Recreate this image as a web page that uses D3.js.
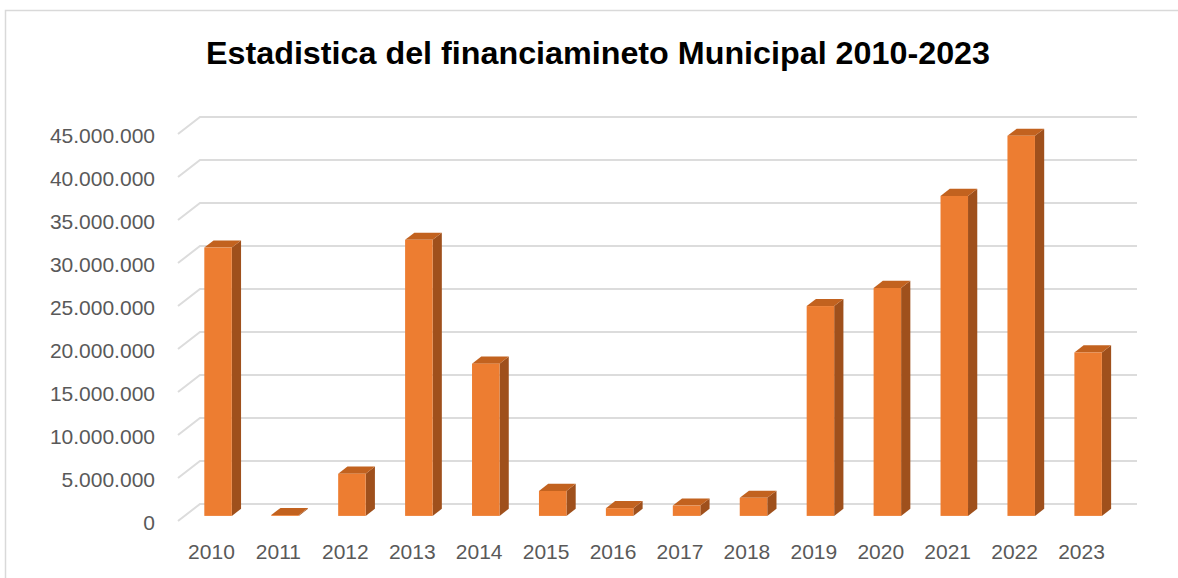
<!DOCTYPE html>
<html>
<head>
<meta charset="utf-8">
<script src="https://cdn.jsdelivr.net/npm/d3@7"></script>
<style>
  body { margin: 0; background: #fff; }
  text { font-family: "Liberation Sans", Arial, sans-serif; }
</style>
</head>
<body>
<div id="chart"></div>
<script>
// Data
var years = ["2010", "2011", "2012", "2013", "2014", "2015", "2016", "2017", "2018", "2019", "2020", "2021", "2022", "2023"];
var amounts = [31200000, 100000, 4900000, 32100000, 17700000, 2900000, 900000, 1200000, 2100000, 24400000, 26500000, 37200000, 44200000, 19000000];
var yTicks = [0, 5000000, 10000000, 15000000, 20000000, 25000000, 30000000, 35000000, 40000000, 45000000];
var title = "Estadistica del financiamineto Municipal 2010-2023";

var W = 1178, H = 578;
var data = years.map(function(y, i) { return { year: y, value: amounts[i] }; });

var svg = d3.select("#chart").append("svg")
  .attr("width", W)
  .attr("height", H);

// chart frame
svg.append("rect")
  .attr("x", 5.5).attr("y", 10.5)
  .attr("width", 1300).attr("height", 700)
  .attr("fill", "none")
  .attr("stroke", "#d9d9d9")
  .attr("stroke-width", 1.5);

// title
svg.append("text")
  .attr("x", 206)
  .attr("y", 64)
  .attr("textLength", 784)
  .attr("lengthAdjust", "spacingAndGlyphs")
  .style("font-size", "31px")
  .style("font-weight", "bold")
  .attr("fill", "#000")
  .text(title);

// scales on the front plane, depth vector goes to the back wall
var x = d3.scaleBand().domain(years).range([178, 1115]);
var y = d3.scaleLinear().domain([0, 45000000]).range([521, 134]);
var DX = 22, DY = -17;
var fmt = function(v) { return d3.format(",")(v).replace(/,/g, "."); };

// gridlines: floor diagonal + back wall line
svg.append("g").selectAll("path")
  .data(yTicks)
  .enter().append("path")
  .attr("d", function(t) {
    var y0 = y(t);
    return "M" + x.range()[0] + "," + y0 + "L" + (x.range()[0] + DX) + "," + (y0 + DY) +
      "L" + (x.range()[1] + DX) + "," + (y0 + DY);
  })
  .attr("fill", "none")
  .attr("stroke", "#dcdcdc")
  .attr("stroke-width", 2);

// y labels
svg.append("g").selectAll("text")
  .data(yTicks)
  .enter().append("text")
  .attr("x", 155)
  .attr("y", function(t) { return y(t) + 2; })
  .attr("dy", "0.35em")
  .attr("text-anchor", "end")
  .attr("fill", "#595959")
  .style("font-size", "21px")
  .text(fmt);

// x labels
svg.append("g").selectAll("text")
  .data(years)
  .enter().append("text")
  .attr("x", function(d) { return x(d) + x.bandwidth() / 2; })
  .attr("y", 559)
  .attr("text-anchor", "middle")
  .attr("fill", "#595959")
  .style("font-size", "21px")
  .text(function(d) { return d; });

// 3D bars
var f0 = 0.3, f1 = 0.72, barW = 27.5;
var sx = DX * (f1 - f0), sy = DY * (f1 - f0);

var bars = svg.append("g").selectAll("g")
  .data(data)
  .enter().append("g");

function face(d) {
  var xl = x(d.year) + x.bandwidth() / 2 - barW / 2 + DX * f0;
  var xr = xl + barW;
  var yb = y(0) + DY * f0;
  var yt = y(d.value) + DY * f0;
  return { xl: xl, xr: xr, yb: yb, yt: yt };
}

// side
bars.append("path")
  .attr("d", function(d) {
    var f = face(d);
    return "M" + f.xr + "," + f.yb + "L" + f.xr + "," + f.yt +
      "L" + (f.xr + sx) + "," + (f.yt + sy) + "L" + (f.xr + sx) + "," + (f.yb + sy) + "Z";
  })
  .attr("fill", "#9f501c");

// top
bars.append("path")
  .attr("d", function(d) {
    var f = face(d);
    return "M" + f.xl + "," + f.yt + "L" + f.xr + "," + f.yt +
      "L" + (f.xr + sx) + "," + (f.yt + sy) + "L" + (f.xl + sx) + "," + (f.yt + sy) + "Z";
  })
  .attr("fill", "#c2621f");

// front
bars.append("rect")
  .attr("x", function(d) { return face(d).xl; })
  .attr("y", function(d) { return face(d).yt; })
  .attr("width", barW)
  .attr("height", function(d) { var f = face(d); return f.yb - f.yt; })
  .attr("fill", "#ed7d31");
</script>
</body>
</html>
